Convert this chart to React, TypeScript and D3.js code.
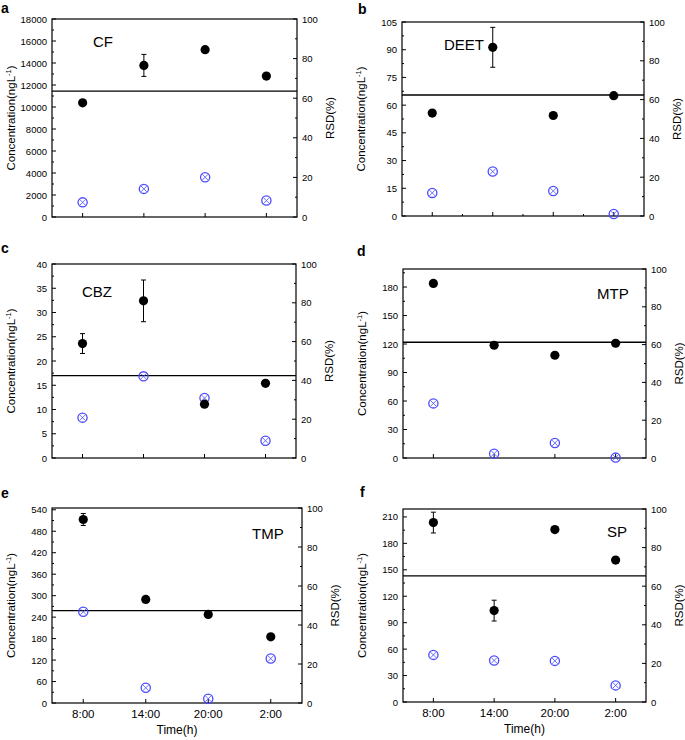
import React from "react";
import * as d3 from "d3";

const times = ["8:00", "14:00", "20:00", "2:00"];

const cfConc = [10380, 13780, 15210, 12810];
const cfErr = [0, 1000, 0, 0];
const cfRsd = [7.4, 14.2, 20.1, 8.3];

const deetConc = [55.7, 91.3, 54.4, 65.1];
const deetErr = [0, 10.8, 0, 0];
const deetRsd = [11.9, 22.9, 12.9, 1.0];

const cbzConc = [23.6, 32.4, 11.1, 15.4];
const cbzErr = [2.05, 4.3, 0, 0];
const cbzRsd = [20.8, 42.1, 30.9, 8.9];

const mtpConc = [183.8, 118.7, 108.2, 120.8];
const mtpErr = [0, 0, 0, 0];
const mtpRsd = [28.9, 2.3, 7.9, 0.2];

const tmpConc = [512.9, 289.6, 247.6, 185];
const tmpErr = [16.8, 0, 0, 0];
const tmpRsd = [46.8, 7.8, 2.2, 22.8];

const spConc = [203.6, 103.7, 195.6, 161];
const spErr = [11.8, 11.8, 0, 3];
const spRsd = [24.4, 21.5, 21.3, 8.6];

const rsdTicks = [0, 20, 40, 60, 80, 100];

type Panel = {
  letter: string;
  name: string;
  conc: number[];
  err: number[];
  rsd: number[];
  yMax: number;
  yStep: number;
  yTickMax: number;
  hline: number;
  box: { l: number; r: number; t: number; b: number };
  nameX: number;
  nameY: number;
  letterX: number;
  letterY: number;
  xLabels: boolean;
  xMinor: boolean;
};

const panels: Panel[] = [
  { letter: "a", name: "CF", conc: cfConc, err: cfErr, rsd: cfRsd, yMax: 18000, yStep: 2000, yTickMax: 18000, hline: 11450,
    box: { l: 52, r: 297, t: 19, b: 217 }, nameX: 93, nameY: 47, letterX: 1, letterY: 13, xLabels: false, xMinor: false },
  { letter: "b", name: "DEET", conc: deetConc, err: deetErr, rsd: deetRsd, yMax: 105, yStep: 15, yTickMax: 105, hline: 65.5,
    box: { l: 402, r: 644, t: 22, b: 216 }, nameX: 444, nameY: 50, letterX: 358, letterY: 14, xLabels: false, xMinor: true },
  { letter: "c", name: "CBZ", conc: cbzConc, err: cbzErr, rsd: cbzRsd, yMax: 40, yStep: 5, yTickMax: 40, hline: 17.0,
    box: { l: 52, r: 296, t: 264, b: 458 }, nameX: 82, nameY: 297, letterX: 1, letterY: 253, xLabels: false, xMinor: false },
  { letter: "d", name: "MTP", conc: mtpConc, err: mtpErr, rsd: mtpRsd, yMax: 199, yStep: 30, yTickMax: 180, hline: 121.9,
    box: { l: 403, r: 646, t: 269, b: 458 }, nameX: 597, nameY: 299, letterX: 357, letterY: 256, xLabels: false, xMinor: false },
  { letter: "e", name: "TMP", conc: tmpConc, err: tmpErr, rsd: tmpRsd, yMax: 545, yStep: 60, yTickMax: 540, hline: 258,
    box: { l: 52, r: 302, t: 508, b: 703 }, nameX: 252, nameY: 539, letterX: 1, letterY: 498, xLabels: true, xMinor: false },
  { letter: "f", name: "SP", conc: spConc, err: spErr, rsd: spRsd, yMax: 219, yStep: 30, yTickMax: 210, hline: 143.2,
    box: { l: 403, r: 646, t: 509, b: 702 }, nameX: 607, nameY: 537, letterX: 360, letterY: 497, xLabels: true, xMinor: false },
];

const FONT = "'Liberation Sans', Arial, Helvetica, sans-serif";
const BLUE = "#4a4aff";

function PanelView({ p }: { p: Panel }) {
  const { l, r, t, b } = p.box;
  const x = d3.scaleLinear().domain([0.5, 4.5]).range([l, r]);
  const y = d3.scaleLinear().domain([0, p.yMax]).range([b, t]);
  const yR = d3.scaleLinear().domain([0, 100]).range([b, t]);
  const majors = d3.range(0, p.yTickMax + 0.001, p.yStep);
  const minors = d3.range(p.yStep / 2, p.yMax, p.yStep);
  const rMinors = d3.range(10, 100, 20);
  const idx = [1, 2, 3, 4];
  const cx = (l + r) / 2;
  const cy = (t + b) / 2;
  return (
    <g fontFamily={FONT}>
      <text x={p.letterX} y={p.letterY} fontSize={14} fontWeight="bold">{p.letter}</text>
      {/* frame */}
      <rect x={l} y={t} width={r - l} height={b - t} fill="none" stroke="#000" strokeWidth={1.2} />
      {/* left ticks */}
      {majors.map((v) => (
        <g key={"lm" + v}>
          <line x1={l} x2={l + 4} y1={y(v)} y2={y(v)} stroke="#000" strokeWidth={1} />
          <text x={l - 5} y={y(v) + 3.5} fontSize={9.5} textAnchor="end">{v}</text>
        </g>
      ))}
      {minors.map((v) => (
        <line key={"ln" + v} x1={l} x2={l + 2} y1={y(v)} y2={y(v)} stroke="#000" strokeWidth={1} />
      ))}
      {/* right ticks */}
      {rsdTicks.map((v) => (
        <g key={"rm" + v}>
          <line x1={r} x2={r - 4} y1={yR(v)} y2={yR(v)} stroke="#000" strokeWidth={1} />
          <text x={r + 5} y={yR(v) + 3.5} fontSize={9.5} textAnchor="start">{v}</text>
        </g>
      ))}
      {rMinors.map((v) => (
        <line key={"rn" + v} x1={r} x2={r - 2} y1={yR(v)} y2={yR(v)} stroke="#000" strokeWidth={1} />
      ))}
      {/* bottom ticks */}
      {idx.map((i) => (
        <line key={"bx" + i} x1={x(i)} x2={x(i)} y1={b} y2={b - 4} stroke="#000" strokeWidth={1} />
      ))}
      {p.xMinor && [1.5, 2.5, 3.5].map((i) => (
        <line key={"bn" + i} x1={x(i)} x2={x(i)} y1={b} y2={b - 2} stroke="#000" strokeWidth={1} />
      ))}
      {p.xLabels && times.map((s, i) => (
        <text key={"xl" + s} x={x(i + 1)} y={b + 14.5} fontSize={11.5} textAnchor="middle">{s}</text>
      ))}
      {p.xLabels && (
        <text x={cx} y={b + 31} fontSize={12} textAnchor="middle">Time(h)</text>
      )}
      {/* axis titles */}
      <text transform={`translate(${l - 37},${cy}) rotate(-90)`} fontSize={11.5} textAnchor="middle">
        Concentration(ngL<tspan dy={-4} fontSize={7.5}>-1</tspan><tspan dy={4}>)</tspan>
      </text>
      <text transform={`translate(${r + 37},${cy}) rotate(-90)`} fontSize={11.5} textAnchor="middle">RSD(%)</text>
      {/* compound name */}
      <text x={p.nameX} y={p.nameY} fontSize={15}>{p.name}</text>
      {/* horizontal line */}
      <line x1={l} x2={r} y1={y(p.hline)} y2={y(p.hline)} stroke="#000" strokeWidth={1.3} />
      {/* RSD markers */}
      {p.rsd.map((v, i) => {
        const px = x(i + 1);
        const py = yR(v);
        const k = 3.0;
        return (
          <g key={"rs" + i} stroke={BLUE} fill="none">
            <circle cx={px} cy={py} r={4.6} strokeWidth={1.3} />
            <line x1={px - k} x2={px + k} y1={py - k} y2={py + k} strokeWidth={0.8} />
            <line x1={px - k} x2={px + k} y1={py + k} y2={py - k} strokeWidth={0.8} />
          </g>
        );
      })}
      {/* concentration markers */}
      {p.conc.map((v, i) => {
        const px = x(i + 1);
        const e = p.err[i];
        return (
          <g key={"cc" + i}>
            {e > 0 && (
              <g stroke="#000" strokeWidth={1}>
                <line x1={px} x2={px} y1={y(v - e)} y2={y(v + e)} />
                <line x1={px - 2.5} x2={px + 2.5} y1={y(v - e)} y2={y(v - e)} />
                <line x1={px - 2.5} x2={px + 2.5} y1={y(v + e)} y2={y(v + e)} />
              </g>
            )}
            <circle cx={px} cy={y(v)} r={4.6} fill="#000" />
          </g>
        );
      })}
    </g>
  );
}

export default function App() {
  return (
    <svg width={685} height={740} style={{ position: "absolute", left: 0, top: 0, background: "#fff" }}>
      <rect x={0} y={0} width={685} height={740} fill="#fff" />
      {panels.map((p) => (
        <PanelView key={p.letter} p={p} />
      ))}
    </svg>
  );
}
